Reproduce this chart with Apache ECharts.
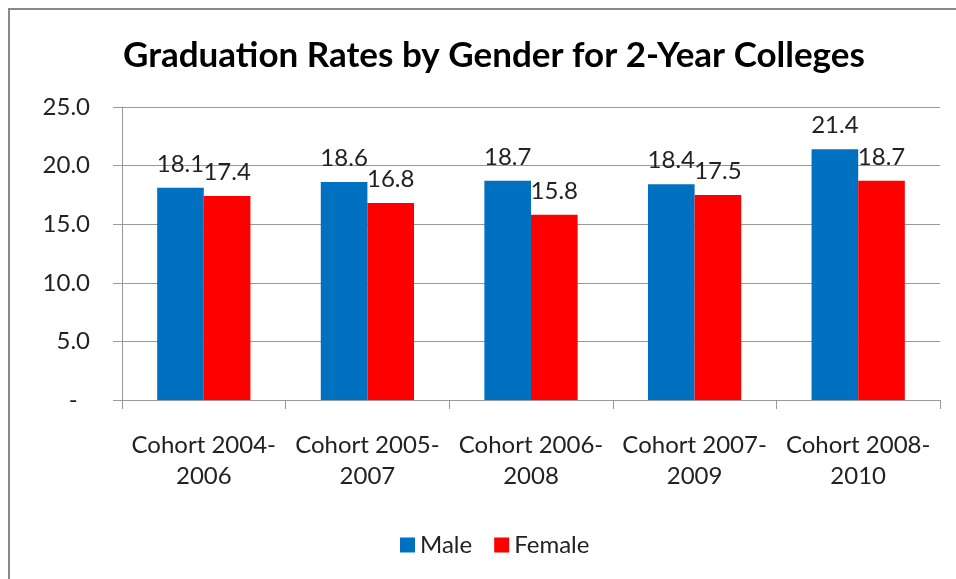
<!DOCTYPE html>
<html><head><meta charset="utf-8">
<script src="https://cdn.jsdelivr.net/npm/echarts@6/dist/echarts.min.js"></script>
<style>html,body{margin:0;padding:0;background:#fff}#c{width:956px;height:579px}</style>
</head><body><div id="c"></div>
<script>
var categories = ['Cohort 2004-\n2006','Cohort 2005-\n2007','Cohort 2006-\n2008','Cohort 2007-\n2009','Cohort 2008-\n2010'];
var male = [18.1, 18.6, 18.7, 18.4, 21.4];
var female = [17.4, 16.8, 15.8, 17.5, 18.7];
var yTicks = [0, 5, 25];
var FONT = 'Lato, "Open Sans", sans-serif';
var chart = echarts.init(document.getElementById('c'), null, {renderer:'canvas'});
var lbl = {show:true, position:'top', distance:12, color:'#222', fontSize:24, fontFamily:FONT, formatter:function(p){return p.value.toFixed(1);}};
chart.setOption({
  animation:false,
  graphic:[{type:'rect', shape:{x:9,y:9,width:1000,height:1000}, style:{fill:'none', stroke:'#888', lineWidth:2}}],
  title:{text:'Graduation Rates by Gender for 2-Year Colleges', left:118, top:33,
    textStyle:{fontFamily:FONT, fontWeight:'bold', fontSize:35, color:'#000'}},
  legend:{bottom:17, left:395, itemWidth:15, itemHeight:15, itemGap:22,
    icon:'rect', textStyle:{fontFamily:FONT, fontSize:24, color:'#222'}, data:['Male','Female']},
  grid:{left:122, right:16, top:107, bottom:179},
  xAxis:{type:'category', data:categories,
    axisLine:{lineStyle:{color:'#999', width:1}},
    axisTick:{show:true, length:9, alignWithLabel:false, interval:0, lineStyle:{color:'#999'}},
    axisLabel:{interval:0, margin:30, color:'#222', fontSize:24, fontFamily:FONT, lineHeight:31}},
  yAxis:{type:'value', min:yTicks[0], max:yTicks[2], interval:yTicks[1],
    axisLine:{show:true, lineStyle:{color:'#999'}},
    axisTick:{show:true, length:9, lineStyle:{color:'#999'}},
    splitLine:{show:true, lineStyle:{color:'#999', width:1}},
    axisLabel:{margin:32, color:'#222', fontSize:24, fontFamily:FONT,
      formatter:function(v){return v===0 ? '-  ' : v.toFixed(1);}}},
  series:[
    {name:'Male', type:'bar', data:male, itemStyle:{color:'#0070C0'}, barGap:'0%', barCategoryGap:'43%', label:lbl},
    {name:'Female', type:'bar', data:female, itemStyle:{color:'#FF0000'}, barGap:'0%', barCategoryGap:'43%', label:lbl}
  ]
});
</script></body></html>
